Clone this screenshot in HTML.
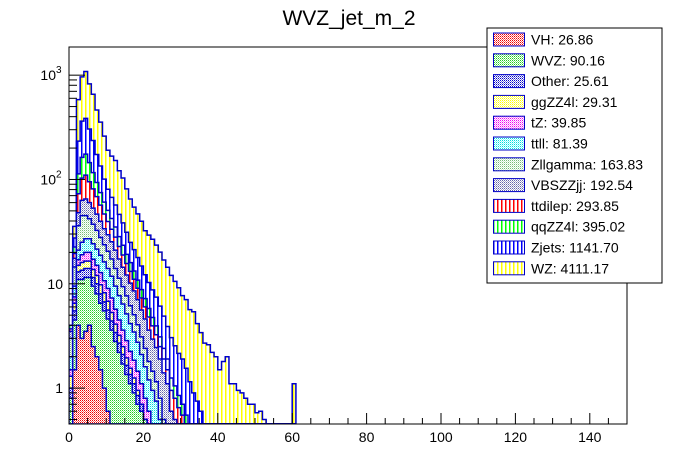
<!DOCTYPE html>
<html><head><meta charset="utf-8"><style>
html,body{margin:0;padding:0;background:#fff;width:696px;height:472px;overflow:hidden;}
svg{display:block;font-family:"Liberation Sans",sans-serif;}
</style></head><body>
<svg id="chart" width="696" height="472" viewBox="0 0 696 472">
<defs>
<pattern id="p-red" width="2" height="2" patternUnits="userSpaceOnUse"><rect width="2" height="2" fill="#fff"/><rect width="1" height="1" fill="#e00"/><rect x="1" y="1" width="1" height="1" fill="#f66"/></pattern>
<pattern id="p-green" width="2" height="2" patternUnits="userSpaceOnUse"><rect width="2" height="2" fill="#fff"/><rect width="1" height="1" fill="#2c2"/><rect x="1" y="1" width="1" height="1" fill="#8e8"/></pattern>
<pattern id="p-navy" width="2" height="2" patternUnits="userSpaceOnUse"><rect width="2" height="2" fill="#fff"/><rect width="1" height="1" fill="#00c"/><rect x="1" y="1" width="1" height="1" fill="#77d"/></pattern>
<pattern id="p-yel" width="2" height="2" patternUnits="userSpaceOnUse"><rect width="2" height="2" fill="#fff"/><rect width="1" height="1" fill="#ff0"/><rect x="1" y="1" width="1" height="1" fill="#ff8"/></pattern>
<pattern id="p-mag" width="2" height="2" patternUnits="userSpaceOnUse"><rect width="2" height="2" fill="#fff"/><rect width="1" height="1" fill="#e0e"/><rect x="1" y="1" width="1" height="1" fill="#f8f"/></pattern>
<pattern id="p-cyan" width="2" height="2" patternUnits="userSpaceOnUse"><rect width="2" height="2" fill="#fff"/><rect width="1" height="1" fill="#0dd"/><rect x="1" y="1" width="1" height="1" fill="#8ff"/></pattern>
<pattern id="p-lgreen" width="2" height="2" patternUnits="userSpaceOnUse"><rect width="2" height="2" fill="#fff"/><rect width="1" height="1" fill="#7b7"/><rect x="1" y="1" width="1" height="1" fill="#cec"/></pattern>
<pattern id="p-lblue" width="2" height="2" patternUnits="userSpaceOnUse"><rect width="2" height="2" fill="#fff"/><rect width="1" height="1" fill="#66a"/><rect x="1" y="1" width="1" height="1" fill="#aac"/></pattern>
<pattern id="v-red" width="4" height="4" patternUnits="userSpaceOnUse"><rect width="4" height="4" fill="#fff"/><rect x="1" width="1.5" height="4" fill="#f00"/></pattern>
<pattern id="v-green" width="4" height="4" patternUnits="userSpaceOnUse"><rect width="4" height="4" fill="#fff"/><rect x="1" width="1.5" height="4" fill="#0f0"/></pattern>
<pattern id="v-blue" width="4" height="4" patternUnits="userSpaceOnUse"><rect width="4" height="4" fill="#fff"/><rect x="1" width="1.5" height="4" fill="#00f"/></pattern>
<pattern id="v-yel" width="4" height="4" patternUnits="userSpaceOnUse"><rect width="4" height="4" fill="#fff"/><rect x="1" width="1.5" height="4" fill="#ff0"/></pattern>
<clipPath id="plotclip"><rect x="69" y="47" width="558" height="377"/></clipPath>
</defs>
<text x="349" y="25" font-size="21" text-anchor="middle">WVZ_jet_m_2</text>
<g id="bars" clip-path="url(#plotclip)"></g>
<rect x="69" y="47" width="558" height="377" fill="none" stroke="#000" stroke-width="1"/>
<g id="axes"></g>
<g id="legend"></g>
</svg>
<script>
const names = ["VH","WVZ","Other","ggZZ4l","tZ","ttll","Zllgamma","VBSZZjj","ttdilep","qqZZ4l","Zjets","WZ"];
const totals = ["26.86","90.16","25.61","29.31","39.85","81.39","163.83","192.54","293.85","395.02","1141.70","4111.17"];
const fills = ["p-red","p-green","p-navy","p-yel","p-mag","p-cyan","p-lgreen","p-lblue","v-red","v-green","v-blue","v-yel"];
const vVH = [0.3,1.5,4,3,3.5,4,2.5,2,1.5,1,0.6,0.4,0.3,0.2,0.1,0.05];
const vWVZ = [0.5,3,7,8,8,7.5,7,6,5,4.5,4,3.2,2.5,2,1.6,1.3,1.1,0.9,0.7,0.6,0.5,0.4,0.3,0.25,0.2,0.1];
const vOther = [0.2,1,2,2.5,2.5,2.5,2,2,1.5,1.2,1,0.8,0.6,0.5,0.4,0.3,0.25,0.2,0.15,0.1];
const vggZZ = [0.3,1,2,2.5,2.5,2.5,2.2,2,1.8,1.5,1.2,0.9,0.7,0.5,0.4,0.3,0.2,0.15,0.1];
const vtZ = [0.2,1,2,3,3.5,3.5,3.5,3,3,2.5,2.2,2,1.6,1.3,1.1,0.9,0.7,0.6,0.5,0.4,0.3,0.2,0.15,0.1];
const vttll = [0.5,2,4,6,7,7,7,6.5,6,5.5,5,4.5,3.8,3.2,2.8,2.3,1.9,1.6,1.3,1,0.8,0.6,0.5,0.4,0.3,0.2,0.15];
const vZllg = [1,5,15,20,18,15,13,11,9,7.5,6.5,5.5,4.5,3.6,3,2.5,2,1.6,1.3,1,0.8,0.6,0.5,0.4,0.3,0.2,0.15];
const vVBS = [0.5,3,12,18,20,18,16,14,12,10,9,8,7,6,5,4.5,4,3.5,3,2.5,2.2,1.8,1.5,1.3,1.1,0.9,0.8,0.6,0.5,0.4,0.35,0.3,0.25,0.2,0.15,0.1];
const vttdilep = [0.2,2,25,40,45,35,28,22,17,13,10,8,7,5.5,4.5,3.5,3,2.5,2,1.7,1.4,1.2,1,0.8,0.6,0.5,0.4,0.35,0.3,0.25,0.2,0.15,0.1];
const vqqZZ = [0.3,3,40,60,65,50,35,25,18,14,11,9,7,5.5,4.5,3.5,2.8,2.2,1.8,1.5,1.2,1,0.8,0.7,0.6,0.5,0.4,0.3,0.25,0.2,0.15,0.1];
const vZjets = [0,5,120,200,210,160,120,80,60,40,30,25,22,18,15,12,9,8,7,6,5,4.5,4,3.5,3,2.5,2,1.8,1.5,1.3,1.2,1,0.8,0.7,0.6,0.5,0.4,0.4,0.3,0.3,0.2,0.2,0.3,0.1,0.1,0,0,0,0,0,0,0,0,0,0,0,0,0,0,0,0.2];
const vWZ = [0,8,350,600,700,520,420,290,220,160,110,100,95,75,65,50,40,33,29,25,20,19,18,16,14,12,10.5,9,8,7,5.8,5.5,4.5,4.5,3.4,2.8,2.3,2.2,1.9,1.7,1.3,1.6,1.7,1,1,0.95,0.9,0.8,0.7,0.7,0.58,0.6,0.5,0.45,0.4,0,0,0,0,0,0.9];
const series = [vVH,vWVZ,vOther,vggZZ,vtZ,vttll,vZllg,vVBS,vttdilep,vqqZZ,vZjets,vWZ];
const xTicks = [0,20,40,60,80,100,120,140];
const yTicks = [1,10,100,1000];
const yTickLabels = ["1","10","10","10"];
const yTickExp = ["","","2","3"];

const NS="http://www.w3.org/2000/svg";
const X0=69,X1=627,Y0=424,Y1=47,XMIN=0,XMAX=150;
const LMIN=Math.log10(0.4527),LMAX=Math.log10(1862);
const xs=v=>X0+(v-XMIN)/(XMAX-XMIN)*(X1-X0);
const ys=v=>v<=0?Y0:Math.min(Y0,Y0-(Math.log10(v)-LMIN)/(LMAX-LMIN)*(Y0-Y1));
function mk(t,a,p){const e=document.createElementNS(NS,t);for(const k in a)e.setAttribute(k,a[k]);p.appendChild(e);return e;}

const nb=61;
const cum=[];
let run=new Array(nb).fill(0);
series.forEach((s,k)=>{run=run.map((r,i)=>r+(s[i]||0));cum[k]=run.slice();});
const bars=document.getElementById('bars');
for(let k=series.length-1;k>=0;k--){
  const c=cum[k];
  let d="M"+xs(0)+","+Y0;
  for(let i=0;i<nb;i++){const y=ys(c[i]);d+=" L"+xs(i)+","+y+" L"+xs(i+1)+","+y;}
  d+=" L"+xs(nb)+","+Y0+" Z";
  const p=mk('path',{d:d,fill:"url(#"+fills[k]+")",stroke:"#0000c8","stroke-width":1.5},bars);
  
  
}
const ax=document.getElementById('axes');


for(let v=0;v<=150;v+=5){
  const big=v%20===0;
  mk('line',{x1:xs(v),x2:xs(v),y1:Y0,y2:Y0-(big?11:6),stroke:"#000"},ax);
}
xTicks.forEach(v=>{
  const t=mk('text',{x:xs(v),y:442,"font-size":14,"text-anchor":"middle"},ax);
  t.textContent=v;
  
  
});
for(let d=-1;d<=3;d++){
  for(let m=1;m<=9;m++){
    const v=m*Math.pow(10,d);
    const lv=(Math.log10(v)-LMIN)/(LMAX-LMIN);
    if(lv<0||lv>1)continue;
    const y=ys(v);
    mk('line',{x1:X0,x2:X0+(m===1?16:8),y1:y,y2:y,stroke:"#000"},ax);
  }
}
yTicks.forEach((v,i)=>{
  const t=mk('text',{x:yTickExp[i]?56:63,y:ys(v)+5,"font-size":14,"text-anchor":"end"},ax);
  t.textContent=yTickLabels[i];
  
  
  if(yTickExp[i]){const e=mk('text',{x:56,y:ys(v)-2,"font-size":10},ax);e.textContent=yTickExp[i];}
});
const lg=document.getElementById('legend');
mk('rect',{x:487,y:28,width:175,height:255,fill:"#fff",stroke:"#000"},lg);
names.forEach((n,i)=>{
  const y=33+i*20.8;
  const r=mk('rect',{x:493.5,y:y,width:31,height:13,fill:"url(#"+fills[i]+")",stroke:"#0000c8","stroke-width":1},lg);
  
  
  const t=mk('text',{x:531,y:y+11.5,"font-size":14},lg);
  t.textContent=n+": "+totals[i];
  
  
});
</script>
</body></html>
